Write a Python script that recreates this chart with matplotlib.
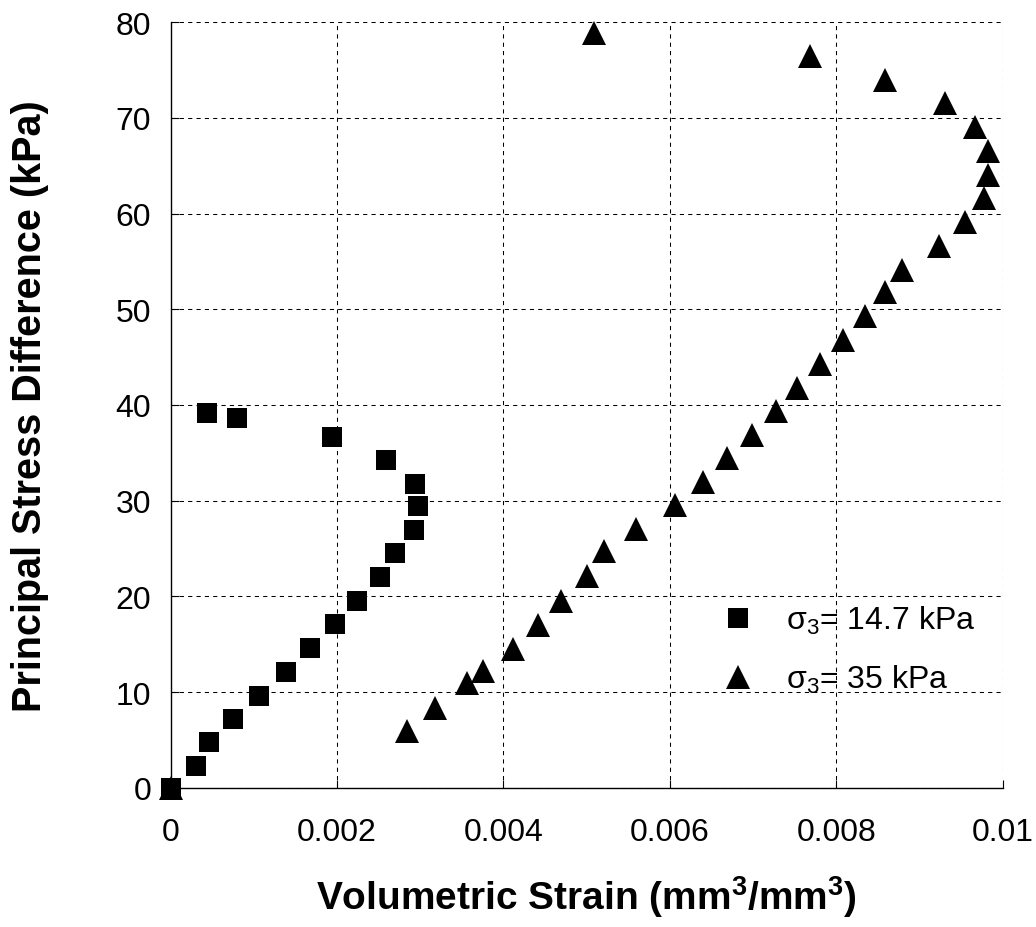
import matplotlib
matplotlib.use('Agg')
import matplotlib.pyplot as plt

# sigma_3 = 14.7 kPa
sq_x = [0, 0.0003, 0.00046, 0.00075, 0.00106, 0.00139, 0.00168, 0.00198, 0.00224, 0.00252,
        0.00269, 0.00292, 0.00297, 0.00294, 0.00259, 0.00194, 0.0008, 0.00043]
sq_y = [0, 2.3, 4.8, 7.2, 9.6, 12.1, 14.6, 17.1, 19.5, 22.0,
        24.5, 26.9, 29.4, 31.8, 34.3, 36.7, 38.6, 39.2]

# sigma_3 = 35 kPa
tr_x = [0, 0.00284, 0.00318, 0.00356, 0.00375, 0.00411, 0.00441, 0.00469, 0.005, 0.00521,
        0.00559, 0.00606, 0.0064, 0.00669, 0.00699, 0.00728, 0.00753, 0.0078, 0.00808, 0.00834,
        0.00858, 0.00879, 0.00923, 0.00955, 0.00977, 0.00982, 0.00982, 0.00967, 0.00931, 0.00858,
        0.00769, 0.00509]
tr_y = [0, 6.0, 8.4, 11.0, 12.2, 14.5, 17.0, 19.5, 22.1, 24.7,
        27.0, 29.6, 32.0, 34.5, 36.9, 39.4, 41.8, 44.3, 46.8, 49.3,
        51.8, 54.1, 56.6, 59.1, 61.6, 64.0, 66.5, 69.0, 71.5, 73.9,
        76.5, 78.9]

labels = [r'$\mathrm{\sigma}_{3}$= 14.7 kPa', r'$\mathrm{\sigma}_{3}$= 35 kPa']
xticks = [0, 0.002, 0.004, 0.006, 0.008, 0.01]
xticklabels = ['0', '0.002', '0.004', '0.006', '0.008', '0.01']
yticks = [0, 10, 20, 30, 40, 50, 60, 70, 80]

plt.rcParams['font.family'] = ['Liberation Sans', 'DejaVu Sans']
plt.rcParams['mathtext.fontset'] = 'custom'
plt.rcParams['mathtext.rm'] = 'Liberation Sans'
plt.rcParams['mathtext.it'] = 'Liberation Sans:italic'
plt.rcParams['mathtext.bf'] = 'Liberation Sans:bold'

fig = plt.figure(figsize=(10.36, 9.28), dpi=100)
ax = fig.add_axes([0.1648, 0.1498, 0.803, 0.8254])

ax.plot(tr_x, tr_y, '^', color='black', markersize=17.5, markeredgewidth=0,
        label=labels[1], clip_on=False, zorder=3)
ax.plot(sq_x, sq_y, 's', color='black', markersize=14.5, markeredgewidth=0,
        label=labels[0], clip_on=False, zorder=4)

ax.set_xlim(0, 0.01)
ax.set_ylim(0, 80)
ax.set_xticks(xticks)
ax.set_xticklabels(xticklabels)
ax.set_yticks(yticks)
ax.tick_params(axis='both', direction='in', length=6, width=0.8, labelsize=23, colors='black')
ax.tick_params(axis='x', pad=21)
ax.tick_params(axis='y', pad=14)

ax.grid(True, color='black', linestyle=(0, (4, 4)), linewidth=0.75)
ax.set_axisbelow(True)
ax.spines['top'].set_visible(False)
ax.spines['right'].set_visible(False)
ax.spines['left'].set_linewidth(1)
ax.spines['bottom'].set_linewidth(1)

ax.set_xlabel(r'Volumetric Strain (mm$^{\mathbf{3}}$/mm$^{\mathbf{3}}$)', fontsize=28,
              fontweight='bold', labelpad=19)
ax.set_ylabel('Principal Stress Difference (kPa)', fontsize=28.5, fontweight='bold', labelpad=48)

handles, labs = ax.get_legend_handles_labels()
ax.legend(handles[::-1], labs[::-1], loc='upper left', bbox_to_anchor=(0.609, 0.278),
          frameon=False, fontsize=23, handletextpad=0.5, labelspacing=0.85,
          handlelength=2.0)

fig.savefig('out.png', dpi=100)
